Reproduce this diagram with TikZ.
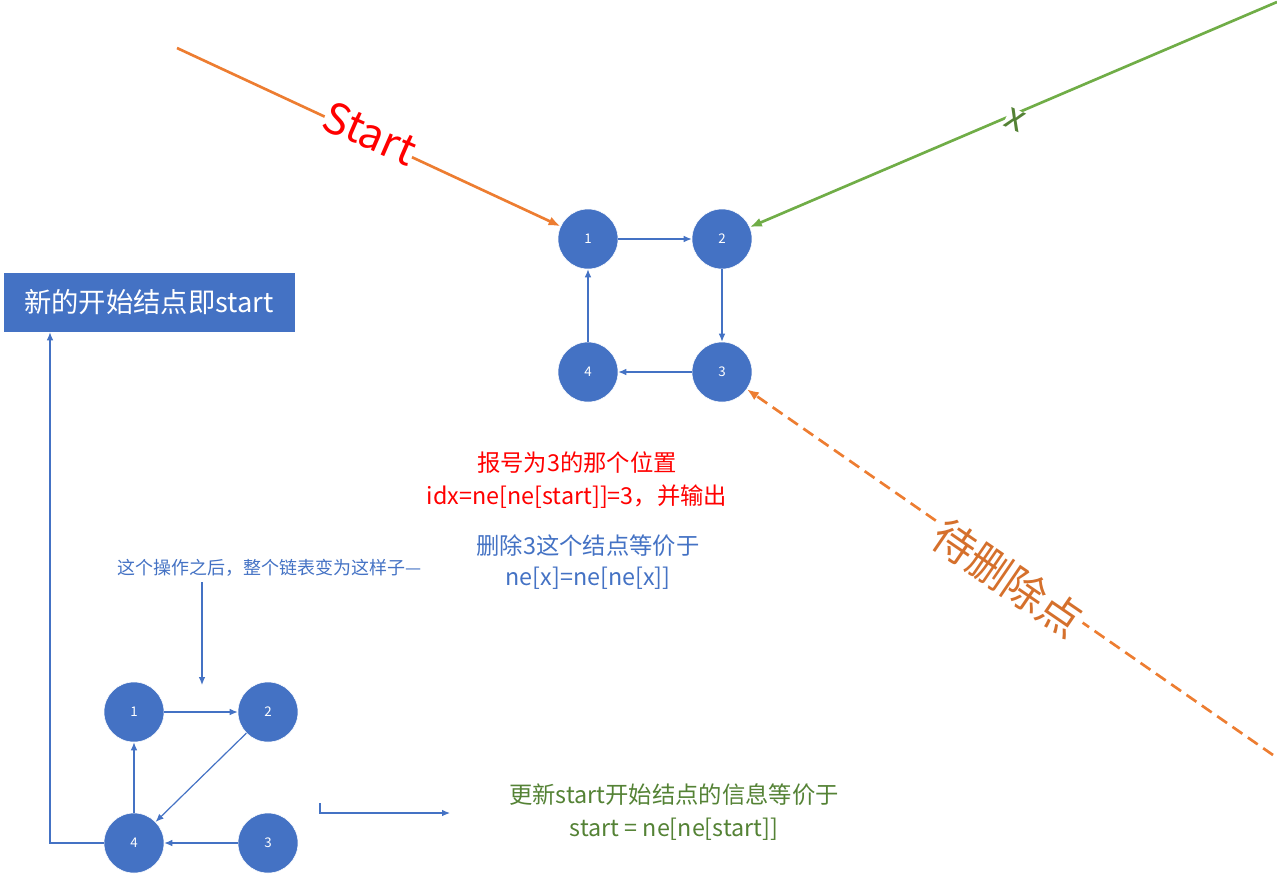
\documentclass[tikz,border=0pt]{standalone}
\usepackage{fontspec}
\setmainfont{Noto Sans CJK SC}
\usetikzlibrary{arrows.meta}
\definecolor{nb}{HTML}{4472C4}
\definecolor{og}{HTML}{ED7D31}
\definecolor{gr}{HTML}{70AD47}
\definecolor{dg}{HTML}{548235}
\begin{document}
\begin{tikzpicture}[x=0.75pt,y=-0.75pt,
 nd/.style={circle,fill=nb,draw=white,minimum size=45pt,inner sep=0,text=white,font=\fontsize{10}{12}\selectfont},
 ed/.style={draw=nb,-{Latex[length=6pt,width=5pt]},line width=0.9pt},
 tx/.style={font=\fontsize{17.5}{20}\selectfont,inner sep=0}]
\useasboundingbox (0,0) rectangle (1277,876);
\node[nd] (a1) at (588,239) {1};
\node[nd] (a2) at (722,239) {2};
\node[nd] (a3) at (722,372) {3};
\node[nd] (a4) at (588,372) {4};
\draw[ed] (a1)--(a2); \draw[ed] (a2)--(a3); \draw[ed] (a3)--(a4); \draw[ed] (a4)--(a1);
\node[nd] (b1) at (134,712) {1};
\node[nd] (b2) at (268,712) {2};
\node[nd] (b3) at (268,843) {3};
\node[nd] (b4) at (134,843) {4};
\draw[ed] (b1)--(b2); \draw[ed] (b2)--(b4); \draw[ed] (b3)--(b4); \draw[ed] (b4)--(b1);
\node[fill=nb,draw=white,minimum width=219pt,minimum height=45pt,text=white,font=\fontsize{20.5}{24}\selectfont] (box) at (149,302) {新的开始结点即start};
\draw[ed] (b4.west) -- (50,843) -- (box.south -| 50,0);
\coordinate (s0) at (177,48);
\draw[og,line width=2pt,-{Latex[length=9pt,width=7pt]}] (s0) -- (a1);
\node[red,rotate=-23.5,font=\fontsize{32}{36}\selectfont,fill=white,inner sep=0pt] at (370,133) {Start};
\coordinate (g0) at (1277,2);
\draw[gr,line width=2pt,-{Latex[length=9pt,width=7pt]}] (g0) -- (a2);
\node[dg,rotate=-24,font=\fontsize{28}{30}\selectfont,fill=white,inner sep=0pt] at (1015,120) {x};
\coordinate (d0) at (1273,755);
\draw[og,line width=2pt,dash pattern=on 9pt off 5pt,-{Latex[length=9pt,width=7pt]}] (d0) -- (a3);
\node[og!90!black,rotate=-34.4,font=\fontsize{32}{36}\selectfont,fill=white,inner sep=1pt] at (1008,578) {待删除点};
\node[tx,red] (t1) at (577,463) {报号为3的那个位置};
\node[tx,red] (t2) at (577,497) {idx=ne[ne[start]]=3，并输出};
\node[tx,nb] (t3) at (588,546) {删除3这个结点等价于};
\node[tx,nb] (t4) at (588,578) {ne[x]=ne[ne[x]]};
\node[nb,font=\fontsize{13.5}{16}\selectfont,inner sep=0] (t5) at (270,568) {这个操作之后，整个链表变为这样子—};
\coordinate (c1) at (202,582); \coordinate (c2) at (202,685);
\draw[ed] (c1)--(c2);
\node[tx,dg] (t6) at (674,795) {更新start开始结点的信息等价于};
\node[tx,dg] (t7) at (674,829) {start = ne[ne[start]]};
\coordinate (e0) at (320,803); \coordinate (e1) at (450,813);
\draw[ed] (e0) -- (320,813) -- (e1);
\end{tikzpicture}
\end{document}
